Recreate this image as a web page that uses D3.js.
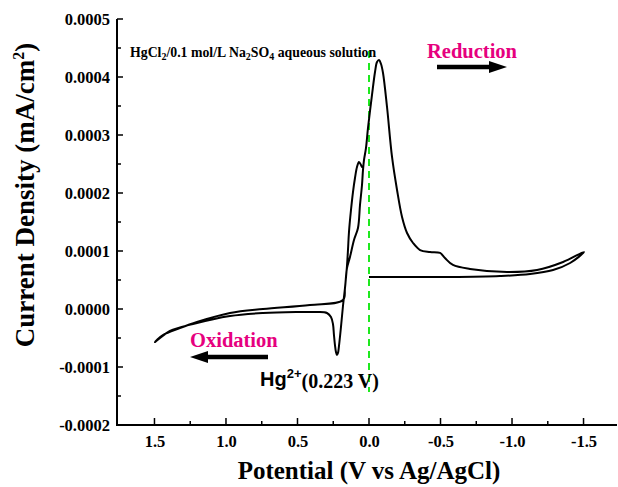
<!DOCTYPE html>
<html>
<head>
<meta charset="utf-8">
<script src="https://cdn.jsdelivr.net/npm/d3@7"></script>
<style>
  html, body { margin: 0; padding: 0; background: #fff; }
  svg { display: block; }
</style>
</head>
<body>
<script>
// ---- Data (potential in V vs Ag/AgCl, current density in units of 1e-4 mA/cm^2) ----
const potential = [
  0.000, -0.217, -0.566, -0.916, -1.126, -1.287, -1.406, -1.503,
  -1.357, -1.175, -0.965, -0.706, -0.587, -0.531, -0.497, -0.427, -0.357, -0.308, -0.266, -0.231,
  -0.196, -0.161, -0.126, -0.098, -0.084, -0.070, -0.056, -0.042, -0.021, 0.007, 0.021, 0.035,
  0.042, 0.049, 0.063, 0.077, 0.105, 0.133, 0.154, 0.168, 0.182,
  0.413, 0.741, 0.972, 1.203, 1.322, 1.441, 1.497,
  1.392, 1.231, 0.972, 0.741, 0.503, 0.364, 0.294, 0.266, 0.252, 0.245, 0.238, 0.231, 0.224,
  0.217, 0.210, 0.196, 0.182, 0.168, 0.154, 0.147, 0.140, 0.126, 0.112, 0.098, 0.084, 0.070,
  0.056, 0.049, 0.042
];
const currentE4 = [
  0.552, 0.552, 0.552, 0.569, 0.603, 0.672, 0.793, 0.983,
  0.810, 0.672, 0.638, 0.690, 0.759, 0.879, 0.966, 0.983, 1.017, 1.138, 1.310, 1.586,
  2.052, 2.621, 3.483, 4.069, 4.224, 4.293, 4.259, 4.086, 3.690, 3.121, 2.776, 2.569,
  2.397, 2.138, 1.793, 1.397, 1.190, 0.897, 0.707, 0.362, 0.155,
  0.069, 0.000, -0.069, -0.224, -0.328, -0.448, -0.569,
  -0.379, -0.259, -0.121, -0.069, -0.052, -0.052, -0.069, -0.138, -0.259, -0.448, -0.621, -0.741, -0.793,
  -0.759, -0.638, -0.310, 0.052, 0.362, 0.741, 1.017, 1.328, 1.707, 2.017, 2.259, 2.448, 2.534,
  2.483, 2.448, 2.466
];
const xTicks = [1.5, 1.0, 0.5, 0.0, -0.5, -1.0, -1.5];
const xMinorTicks = [1.25, 0.75, 0.25, -0.25, -0.75, -1.25];
const yTicks = [-0.0002, -0.0001, 0.0000, 0.0001, 0.0002, 0.0003, 0.0004, 0.0005];
const yMinorTicks = [-0.00015, -0.00005, 0.00005, 0.00015, 0.00025, 0.00035, 0.00045];
const marker = 0.0;          // reference potential dashed line (V)
const xDomain = [1.762, -1.734];
const yDomain = [-0.0002, 0.0005];

(function () {
const W = 618, H = 487;
const mLeft = 117, mRight = 617, mTop = 19, mBottom = 425;

const svg = d3.select("body").append("svg").attr("width", W).attr("height", H);

const x = d3.scaleLinear().domain(xDomain).range([mLeft, mRight]);
const y = d3.scaleLinear().domain(yDomain).range([mBottom, mTop]);

const serif = "'Liberation Serif', 'Times New Roman', serif";
const sans = "'Liberation Sans', Arial, sans-serif";
const loc = d3.formatLocale({ decimal: ".", thousands: ",", grouping: [3], currency: ["", ""], minus: "-" });

// ---- Axes ----
const xAxis = d3.axisBottom(x).tickValues(xTicks).tickSize(0).tickFormat(loc.format(".1f"));
const gx = svg.append("g").attr("transform", `translate(0,${mBottom})`).call(xAxis);
gx.select(".domain").remove();
gx.selectAll("text").attr("dy", null).attr("y", 22)
  .style("font-family", serif).style("font-weight", "bold").style("font-size", "16.5px").attr("fill", "#000");

const yAxis = d3.axisLeft(y).tickValues(yTicks).tickSize(0).tickFormat(loc.format(".4f"));
const gy = svg.append("g").attr("transform", `translate(${mLeft},0)`).call(yAxis);
gy.select(".domain").remove();
gy.selectAll("text").attr("x", -7).attr("dy", "0.35em")
  .style("font-family", serif).style("font-weight", "bold").style("font-size", "16.5px").attr("fill", "#000");

// tick marks (inward)
const tk = svg.append("g").attr("stroke", "#000").attr("stroke-width", 1.5);
xTicks.forEach(v => tk.append("line").attr("x1", x(v)).attr("x2", x(v)).attr("y1", mBottom).attr("y2", mBottom - 7));
xMinorTicks.forEach(v => tk.append("line").attr("x1", x(v)).attr("x2", x(v)).attr("y1", mBottom).attr("y2", mBottom - 4));
yTicks.forEach(v => tk.append("line").attr("x1", mLeft).attr("x2", mLeft + 6).attr("y1", y(v)).attr("y2", y(v)));
yMinorTicks.forEach(v => tk.append("line").attr("x1", mLeft).attr("x2", mLeft + 4).attr("y1", y(v)).attr("y2", y(v)));

// axis lines
svg.append("path")
  .attr("d", `M${mLeft},${mTop}V${mBottom}H${mRight}`)
  .attr("fill", "none").attr("stroke", "#000").attr("stroke-width", 2);

// ---- Axis titles ----
svg.append("text")
  .attr("x", x(0)).attr("y", 479)
  .attr("text-anchor", "middle")
  .style("font-family", serif).style("font-weight", "bold").style("font-size", "25px")
  .text("Potential (V vs Ag/AgCl)");

const yt = svg.append("text")
  .attr("transform", `translate(34,195) rotate(-90)`)
  .attr("text-anchor", "middle")
  .style("font-family", serif).style("font-weight", "bold").style("font-size", "27px");
yt.append("tspan").text("Current Density (mA/cm");
yt.append("tspan").attr("dy", -10).style("font-size", "16px").text("2");
yt.append("tspan").attr("dy", 10).text(")");

// ---- Green dashed marker line ----
svg.append("line")
  .attr("x1", x(marker)).attr("x2", x(marker))
  .attr("y1", y(0.000445)).attr("y2", y(-0.000143))
  .attr("stroke", "#1ee81e").attr("stroke-width", 2).attr("stroke-dasharray", "7,5");

// ---- CV curve ----
const pts = potential.map((v, i) => [v, currentE4[i] * 1e-4]);
const line = d3.line().x(d => x(d[0])).y(d => y(d[1])).curve(d3.curveCatmullRom.alpha(0.5));
svg.append("path")
  .datum(pts)
  .attr("d", line)
  .attr("fill", "none").attr("stroke", "#000").attr("stroke-width", 2).attr("stroke-linejoin", "round");

// ---- Annotations ----
const sub = svg.append("text")
  .attr("x", 130).attr("y", 57)
  .style("font-family", serif).style("font-weight", "bold").style("font-size", "13.8px");
sub.append("tspan").text("HgCl");
sub.append("tspan").attr("dy", 3).style("font-size", "10px").text("2");
sub.append("tspan").attr("dy", -3).text("/0.1 mol/L Na");
sub.append("tspan").attr("dy", 3).style("font-size", "10px").text("2");
sub.append("tspan").attr("dy", -3).text("SO");
sub.append("tspan").attr("dy", 3).style("font-size", "10px").text("4");
sub.append("tspan").attr("dy", -3).text(" aqueous solution");

const pink = "#e6007e";
svg.append("text").attr("x", 427).attr("y", 58)
  .style("font-family", serif).style("font-weight", "bold").style("font-size", "20.5px")
  .attr("fill", pink).text("Reduction");
svg.append("text").attr("x", 190).attr("y", 347)
  .style("font-family", serif).style("font-weight", "bold").style("font-size", "20.5px")
  .attr("fill", pink).text("Oxidation");

// arrows
function arrow(x1, x2, yy) {
  const dir = Math.sign(x2 - x1);
  const headLen = 18, headH = 6;
  svg.append("line").attr("x1", x1).attr("x2", x2 - dir * (headLen - 2)).attr("y1", yy).attr("y2", yy)
    .attr("stroke", "#000").attr("stroke-width", 4.5);
  svg.append("path")
    .attr("d", `M${x2},${yy}L${x2 - dir * headLen},${yy - headH}L${x2 - dir * headLen},${yy + headH}Z`)
    .attr("fill", "#000");
}
arrow(437, 507, 67);
arrow(268, 190, 357);

const hg = svg.append("text").attr("x", 260).attr("y", 386)
  .style("font-weight", "bold").style("font-size", "20px");
hg.append("tspan").style("font-family", sans).text("Hg");
hg.append("tspan").style("font-family", sans).style("font-size", "13px").attr("dy", -8).text("2+");
hg.append("tspan").style("font-family", serif).attr("dy", 10).text("(0.223 V)");
})();
</script>
</body>
</html>
